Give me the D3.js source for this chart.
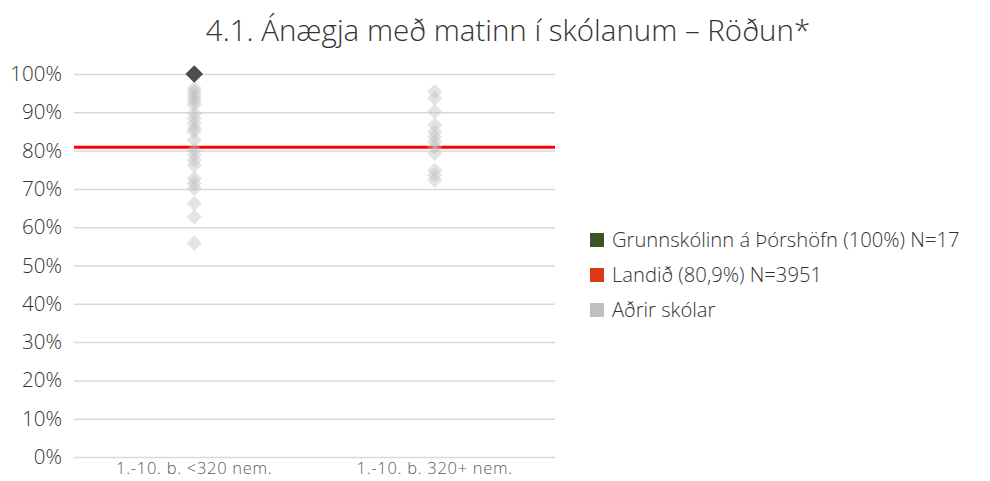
<!DOCTYPE html>
<html>
<head>
<meta charset="utf-8">
<script src="https://cdn.jsdelivr.net/npm/d3@7/dist/d3.min.js"></script>
<style>
  html, body { margin: 0; padding: 0; background: #fff; }
  svg { display: block; font-family: "Open Sans", "Noto Sans", sans-serif; }
</style>
</head>
<body>
<svg id="chart" width="990" height="481"></svg>
<script>
// School groups on the x axis
const categories = ["1.-10. b. <320 nem.", "1.-10. b. 320+ nem."];

// Other schools' results per group (%)
const othersSmall = [96.3, 95.4, 94.5, 93.7, 92.8, 91.9, 89.7, 88.4, 87.1, 85.8, 84.9,
                     82.8, 80.2, 78.9, 77.5, 76.2, 72.8, 71.5, 70.2, 66.2, 62.7, 55.8];
const othersLarge = [95.4, 93.7, 90.2, 86.7, 84.9, 83.6, 82.3, 81.0, 79.3, 74.9, 73.6, 72.3];

// The school itself
const schoolCategory = "1.-10. b. <320 nem.";
const schoolValue = 100;

// National average
const nationalValue = 80.9;

const yTicks = [0, 10, 20, 30, 40, 50, 60, 70, 80, 90, 100];

const legendItems = [
  { label: "Grunnskólinn á Þórshöfn (100%) N=17", color: "#375623" },
  { label: "Landið (80,9%) N=3951", color: "#dc3912" },
  { label: "Aðrir skólar", color: "#bfbfbf" }
];

const FONT = "'Open Sans', 'Noto Sans', sans-serif";
const svg = d3.select("#chart");

const x = d3.scaleBand().domain(categories).range([74, 555]);
const y = d3.scaleLinear().domain([0, 100]).range([457, 74]);

// Title
svg.append("text")
  .attr("x", 508).attr("y", 41)
  .attr("text-anchor", "middle")
  .attr("font-size", 29.5)
  .attr("font-weight", 300)
  .attr("fill", "#333333")
  .text("4.1. Ánægja með matinn í skólanum – Röðun*");

// Gridlines and y labels
const yAxis = d3.axisLeft(y).tickValues(yTicks).tickFormat(d => d + "%").tickSize(-(555 - 74)).tickPadding(12);
const gy = svg.append("g").attr("transform", "translate(74,0)").call(yAxis);
gy.select(".domain").remove();
gy.selectAll(".tick line").attr("stroke", "#d9d9d9").attr("stroke-width", 1.5);
gy.selectAll(".tick text").attr("font-size", 20.5).attr("font-weight", 300).attr("fill", "#333333").attr("font-family", FONT);

// X axis labels
const xAxis = d3.axisBottom(x).tickSize(0).tickPadding(5);
const gx = svg.append("g").attr("transform", "translate(0,457)").call(xAxis);
gx.select(".domain").remove();
gx.selectAll(".tick text").attr("font-size", 16.5).attr("font-weight", 300)
  .attr("letter-spacing", 0.7).attr("fill", "#595959").attr("font-family", FONT);

// National average line
svg.append("line")
  .attr("x1", 74).attr("x2", 555)
  .attr("y1", y(nationalValue)).attr("y2", y(nationalValue))
  .attr("stroke", "#ff0000").attr("stroke-width", 3);

// Diamond markers
const diamond = d3.symbol().type(d3.symbolDiamond2);
const others = [
  ...othersSmall.map(v => ({ c: categories[0], v })),
  ...othersLarge.map(v => ({ c: categories[1], v }))
];
svg.append("g").selectAll("path").data(others).join("path")
  .attr("d", diamond.size(150)())
  .attr("transform", d => `translate(${x(d.c) + x.bandwidth() / 2},${y(d.v)})`)
  .attr("fill", "#bfbfbf").attr("fill-opacity", 0.42);

svg.append("path")
  .attr("d", diamond.size(200)())
  .attr("transform", `translate(${x(schoolCategory) + x.bandwidth() / 2},${y(schoolValue)})`)
  .attr("fill", "#4d4d4d");

// Legend
const lg = svg.append("g").selectAll("g").data(legendItems).join("g")
  .attr("transform", (d, i) => `translate(590,${240 + i * 35})`);
lg.append("rect").attr("x", 0).attr("y", -7).attr("width", 14).attr("height", 14).attr("fill", d => d.color);
lg.append("text").attr("x", 22).attr("y", 7).attr("font-size", 20.2).attr("font-weight", 300)
  .attr("fill", "#333333").text(d => d.label);
</script>
</body>
</html>
